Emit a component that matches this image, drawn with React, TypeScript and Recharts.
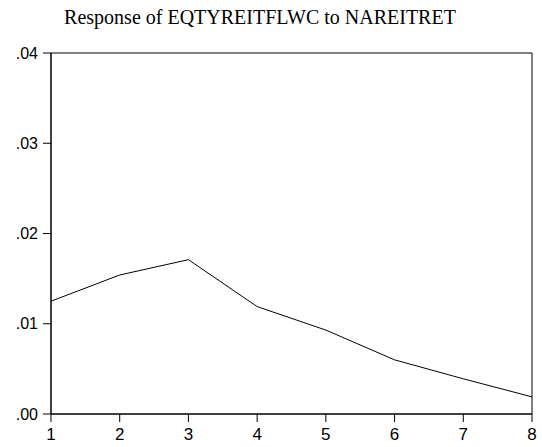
import { LineChart, Line, XAxis, YAxis, ReferenceArea } from "recharts";

// Impulse response, periods 1..8
const periods = [1, 2, 3, 4, 5, 6, 7, 8];
const response = [0.0125, 0.0154, 0.0171, 0.0119, 0.0093, 0.006, 0.0039, 0.0019];
const yTicks = [0, 0.01, 0.02, 0.03, 0.04];
const title = "Response of EQTYREITFLWC to NAREITRET";

const data = periods.map((p, i) => ({ period: p, value: response[i] }));

const fmtY = (v: number) => v.toFixed(2).replace(/^0/, "");

export default function App() {
  return (
    <div style={{ position: "absolute", left: 0, top: 0, width: 542, height: 447, background: "#fff" }}>
      <div
        style={{
          position: "absolute",
          left: 0,
          width: 520,
          top: 6,
          textAlign: "center",
          fontFamily: "'Liberation Serif', 'Times New Roman', serif",
          fontSize: 20,
          color: "#000",
        }}
      >
        {title}
      </div>
      <LineChart width={542} height={447} data={data} margin={{ top: 53, right: 10, bottom: 3, left: 6 }}>
        <XAxis
          dataKey="period"
          type="number"
          domain={[1, 8]}
          ticks={periods}
          height={30}
          tickSize={8}
          tickMargin={6}
          stroke="#000"
          tick={{ fill: "#000", fontSize: 17, fontFamily: "'Liberation Sans', Arial, sans-serif" }}
        />
        <YAxis
          type="number"
          domain={[0, 0.04]}
          ticks={yTicks}
          tickFormatter={fmtY}
          width={45}
          tickSize={8}
          tickMargin={5}
          stroke="#000"
          tick={{ fill: "#000", fontSize: 16, fontFamily: "'Liberation Sans', Arial, sans-serif" }}
        />
        <ReferenceArea x1={1} x2={8} y1={0} y2={0.04} fill="none" stroke="#000" strokeWidth={1} ifOverflow="visible" />
        <Line
          dataKey="value"
          stroke="#000"
          strokeWidth={1}
          dot={false}
          type="linear"
          isAnimationActive={false}
        />
      </LineChart>
    </div>
  );
}
